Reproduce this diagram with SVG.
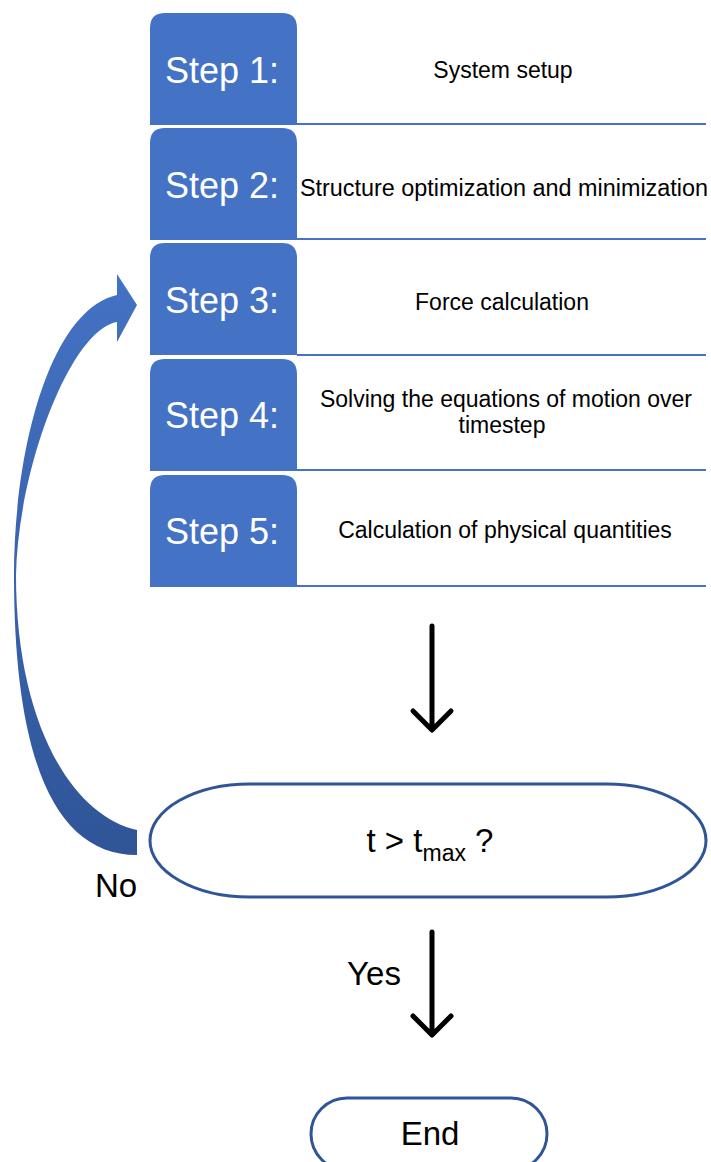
<svg xmlns="http://www.w3.org/2000/svg" width="711" height="1162" viewBox="0 0 711 1162">
<style>
.box{fill:#4472C4}
.sep{stroke:#4472C4;stroke-width:2;fill:none}
.lbl{font-family:"Liberation Sans",Arial,sans-serif;font-size:36px;fill:#ffffff;text-anchor:middle}
.desc{font-family:"Liberation Sans",Arial,sans-serif;font-size:23px;fill:#000;text-anchor:middle}
.big{font-family:"Liberation Sans",Arial,sans-serif;font-size:33px;fill:#000;text-anchor:middle}
.term{fill:#fff;stroke:#2F5597;stroke-width:3}
.arr{stroke:#000;stroke-width:5;fill:none;stroke-linecap:round;stroke-linejoin:round}
</style>
<defs>
<linearGradient id="loopGrad" gradientUnits="userSpaceOnUse" x1="0" y1="274" x2="0" y2="855">
<stop offset="0" stop-color="#4472C4"/>
<stop offset="1" stop-color="#2F5597"/>
</linearGradient>
</defs>
<g id="step1">
<path class="box" d="M150,125 V28 Q150,13 165,13 H282 Q297,13 297,28 V125 Z"/>
<text class="lbl" x="222" y="83">Step 1:</text>
<text class="desc" x="503" y="78">System setup</text>
</g>
<g id="step2">
<path class="box" d="M150,240 V143 Q150,128 165,128 H282 Q297,128 297,143 V240 Z"/>
<text class="lbl" x="222" y="198">Step 2:</text>
<text class="desc" x="504" y="196" textLength="408" lengthAdjust="spacingAndGlyphs">Structure optimization and minimization</text>
</g>
<g id="step3">
<path class="box" d="M150,355 V258 Q150,243 165,243 H282 Q297,243 297,258 V355 Z"/>
<text class="lbl" x="222" y="313">Step 3:</text>
<text class="desc" x="502" y="310">Force calculation</text>
</g>
<g id="step4">
<path class="box" d="M150,471 V374 Q150,359 165,359 H282 Q297,359 297,374 V471 Z"/>
<text class="lbl" x="222" y="428">Step 4:</text>
<text class="desc" x="506" y="407">Solving the equations of motion over</text>
<text class="desc" x="502" y="433">timestep</text>
</g>
<g id="step5">
<path class="box" d="M150,587 V490 Q150,475 165,475 H282 Q297,475 297,490 V587 Z"/>
<text class="lbl" x="222" y="544">Step 5:</text>
<text class="desc" x="505" y="538">Calculation of physical quantities</text>
</g>
<g id="decision">
<rect class="term" x="150" y="784" width="556" height="113" rx="100" ry="56.5"/>
<text class="big" x="430" y="852">t &gt; t<tspan font-size="23" dy="9">max</tspan><tspan dy="-9"> ?</tspan></text>
</g>
<g id="end">
<rect class="term" x="311" y="1098" width="236" height="72" rx="36" ry="36"/>
<text class="big" x="430" y="1145">End</text>
</g>
<g id="connectors">
<line class="sep" x1="297" y1="124" x2="706" y2="124"/>
<line class="sep" x1="297" y1="239" x2="706" y2="239"/>
<line class="sep" x1="297" y1="355" x2="706" y2="355"/>
<line class="sep" x1="297" y1="470" x2="706" y2="470"/>
<line class="sep" x1="297" y1="586" x2="706" y2="586"/>
<path class="arr" d="M432,626 V729 M413,711 L432,730 L451,711"/>
<path class="arr" d="M432,932 V1034 M413,1016 L432,1035 L451,1016"/>
<path fill="url(#loopGrad)" d="M117,295 L117,274 L137,305 L117,342 L117,322 C70,330 18,470 16,575 C16,720 70,815 137,830 L137,855 C55,855 14,760 14,575 C14,450 50,310 117,295 Z"/>
<text class="big" x="116" y="897">No</text>
<text class="big" x="374" y="985">Yes</text>
</g>
</svg>
